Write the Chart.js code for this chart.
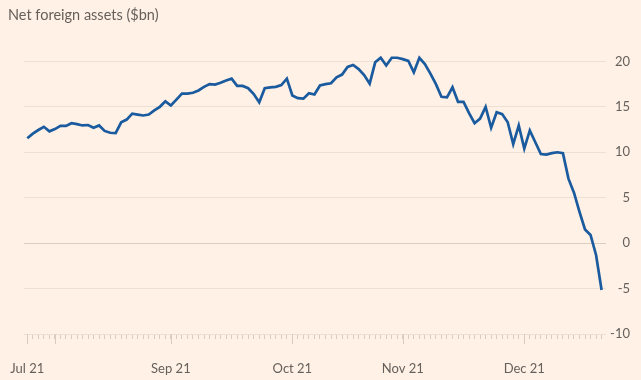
<!DOCTYPE html>
<html>
<head>
<meta charset="utf-8">
<script src="https://cdn.jsdelivr.net/npm/chart.js@4/dist/chart.umd.min.js"></script>
<style>
  html, body { margin: 0; padding: 0; background: #fff1e5; }
  #wrap { width: 641px; height: 380px; position: relative; }
</style>
</head>
<body>
<div id="wrap"><canvas id="nfaChart"></canvas></div>
<script>
const netAssets = [
  11.55, 12.05, 12.45, 12.8, 12.3, 12.55, 12.9, 12.9, 13.2, 13.1,
  12.95, 13.0, 12.7, 12.95, 12.35, 12.15, 12.1, 13.3, 13.6, 14.25,
  14.15, 14.05, 14.15, 14.6, 15.0, 15.6, 15.15, 15.8, 16.45, 16.45,
  16.55, 16.8, 17.2, 17.5, 17.45, 17.65, 17.9, 18.1, 17.3, 17.3,
  17.05, 16.4, 15.5, 17.05, 17.15, 17.2, 17.4, 18.1, 16.25, 15.95,
  15.9, 16.5, 16.35, 17.35, 17.5, 17.6, 18.25, 18.55, 19.4, 19.6,
  19.15, 18.5, 17.55, 19.9, 20.4, 19.55, 20.4, 20.4, 20.25, 20.05,
  18.8, 20.4, 19.7, 18.65, 17.5, 16.1, 16.05, 17.15, 15.55, 15.55,
  14.3, 13.2, 13.7, 15.0, 12.7, 14.4, 14.2, 13.3, 10.9, 12.95,
  10.4, 12.4, 11.1, 9.8, 9.75, 9.9, 10.0, 9.9, 7.1, 5.55,
  3.45, 1.5, 0.9, -1.3, -5.15
];

// x-axis month labels and the observation they sit on
const monthLabels = ['Jul 21', 'Sep 21', 'Oct 21', 'Nov 21', 'Dec 21'];
const monthIdx = [0, 26, 48, 68, 90];
// longer tick marks
const majorTicks = [0, 5, 26, 48, 68, 90];

const yTicks = [-10, -5, 0, 5, 10, 15, 20];

const textColor = '#66605c';
const gridColor = '#ecdfd4';
const tickColor = '#d9cbc0';
const fontFamily = 'Lato, "Noto Sans", sans-serif';

// long month ticks under the axis
const majorTickPlugin = {
  id: 'majorTicks',
  afterDraw(chart) {
    const { ctx, chartArea, scales } = chart;
    ctx.save();
    ctx.strokeStyle = tickColor;
    ctx.lineWidth = 1;
    majorTicks.forEach(i => {
      const x = Math.round(scales.x.getPixelForValue(i)) + 0.5;
      ctx.beginPath();
      ctx.moveTo(x, chartArea.bottom);
      ctx.lineTo(x, chartArea.bottom + 10);
      ctx.stroke();
    });
    ctx.restore();
  }
};

const chart = new Chart(document.getElementById('nfaChart'), {
  type: 'line',
  data: {
    datasets: [{
      label: 'Net foreign assets ($bn)',
      data: netAssets.map((v, i) => ({ x: i, y: v })),
      borderColor: '#1a5a9e',
      borderWidth: 2.7,
      pointRadius: 0,
      tension: 0,
      fill: false,
      clip: false
    }]
  },
  options: {
    responsive: true,
    maintainAspectRatio: false,
    animation: false,
    layout: { padding: { left: 8, right: 11, top: 0, bottom: 4 } },
    plugins: {
      legend: { display: false },
      tooltip: { enabled: false },
      title: {
        display: true,
        text: 'Net foreign assets ($bn)',
        align: 'start',
        color: textColor,
        font: { family: fontFamily, size: 14.5, weight: 'normal' },
        padding: { top: 7, bottom: 37 }
      }
    },
    scales: {
      x: {
        type: 'linear',
        min: -0.6,
        max: 104.8,
        afterBuildTicks: s => {
          s.ticks = netAssets.map((v, i) => ({ value: i }));
        },
        afterFit: s => {
          s.paddingLeft = 24;
          s.paddingRight = 0;
          s.height = 42;
        },
        grid: {
          drawOnChartArea: false,
          drawTicks: true,
          tickLength: 5,
          color: tickColor
        },
        border: { display: false },
        ticks: {
          autoSkip: false,
          maxRotation: 0,
          padding: 22,
          color: textColor,
          font: { family: fontFamily, size: 13 },
          callback: v => {
            const k = monthIdx.indexOf(v);
            return k >= 0 ? monthLabels[k] : '';
          }
        }
      },
      y: {
        position: 'right',
        min: -10,
        max: 20,
        afterBuildTicks: s => {
          s.ticks = yTicks.map(v => ({ value: v }));
        },
        afterFit: s => {
          s.width = 24;
        },
        grid: {
          drawTicks: false,
          color: c => (c.tick && c.tick.value === 0) ? '#dacdc2' : gridColor
        },
        border: { display: false },
        ticks: {
          padding: 5,
          crossAlign: 'far',
          color: textColor,
          font: { family: fontFamily, size: 13 }
        }
      }
    }
  },
  plugins: [majorTickPlugin]
});
</script>
</body>
</html>
